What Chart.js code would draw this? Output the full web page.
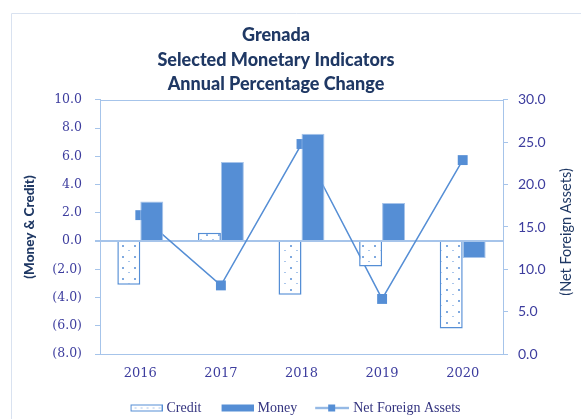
<!DOCTYPE html>
<html>
<head>
<meta charset="utf-8">
<script src="https://cdn.jsdelivr.net/npm/chart.js@4/dist/chart.umd.min.js"></script>
<style>
  html, body { margin: 0; padding: 0; background: #fff; }
  #chart { display: block; }
</style>
</head>
<body>
<canvas id="chart" width="581" height="419"></canvas>
<script>
// values
const years = ['2016', '2017', '2018', '2019', '2020'];
const credit = [-3.1, 0.6, -3.8, -1.8, -6.2];
const money = [2.8, 5.6, 7.6, 2.7, -1.2];
const netForeignAssets = [16.4, 8.1, 24.8, 6.5, 22.9];
const titleLines = ['Grenada', 'Selected Monetary Indicators', 'Annual Percentage Change'];

const blue = '#558ED5';
const axisColor = '#A6C4EA';
const tickColor = '#3D3D9E';
const navy = '#1F3864';

// dotted fill used for the credit bars
function makeDots() {
    const c = document.createElement('canvas');
    c.width = 12;
    c.height = 11;
    const g = c.getContext('2d');
    g.fillStyle = '#fff';
    g.fillRect(0, 0, 12, 11);
    g.fillStyle = '#7FA9DF';
    g.fillRect(2, 3, 2, 2);
    g.fillStyle = '#A9C6EC';
    g.fillRect(8, 8, 2, 1);
    return g.createPattern(c, 'repeat');
}
const dots = makeDots();

// legend symbols (content sits at the right end so it hugs the label text)
function legendIcon(kind) {
    const c = document.createElement('canvas');
    c.width = 45;
    c.height = 9;
    const g = c.getContext('2d');
    if (kind === 'credit') {
        g.fillStyle = '#fff';
        g.fillRect(13, 1, 32, 7);
        g.fillStyle = '#A9C6EC';
        for (let x = 17; x < 44; x += 6) g.fillRect(x, 4, 2, 1);
        g.strokeStyle = blue;
        g.lineWidth = 1;
        g.strokeRect(13.5, 1.5, 31, 6);
    } else if (kind === 'money') {
        g.fillStyle = blue;
        g.fillRect(13, 1, 32, 7);
    } else {
        g.strokeStyle = blue;
        g.lineWidth = 1.5;
        g.beginPath();
        g.moveTo(11, 4.5);
        g.lineTo(45, 4.5);
        g.stroke();
        g.fillStyle = blue;
        g.fillRect(24, 1, 7, 7);
    }
    return c;
}
const icons = [legendIcon('credit'), legendIcon('money'), legendIcon('nfa')];

const fmtLeft = v => v < 0 ? '(' + Math.abs(v).toFixed(1) + ')' : v.toFixed(1);

const framePlugin = {
    id: 'frame',
    afterLayout(chart) {
        // centre the title a bit left of the canvas middle, as in the reference
        if (chart.titleBlock) {
            chart.titleBlock.left = 0;
            chart.titleBlock.right = 552;
        }
    },
    beforeDraw(chart) {
        const ctx = chart.ctx;
        ctx.save();
        ctx.strokeStyle = '#D9E2F0';
        ctx.lineWidth = 1;
        ctx.beginPath();
        ctx.moveTo(11.5, 419);
        ctx.lineTo(11.5, 13.5);
        ctx.lineTo(581, 13.5);
        ctx.stroke();
        ctx.restore();
    },
    afterDraw(chart) {
        const ctx = chart.ctx;
        const a = chart.chartArea;
        ctx.save();
        ctx.strokeStyle = axisColor;
        ctx.lineWidth = 1;
        ctx.beginPath();
        ctx.moveTo(a.left, Math.round(a.top) + 0.5);
        ctx.lineTo(a.right, Math.round(a.top) + 0.5);
        ctx.stroke();
        // right axis title reads bottom-to-top
        ctx.translate(566, (a.top + a.bottom) / 2 + 5);
        ctx.rotate(-Math.PI / 2);
        ctx.fillStyle = navy;
        ctx.font = '14.5px Lato';
        ctx.textAlign = 'center';
        ctx.textBaseline = 'middle';
        ctx.fillText('(Net Foreign Assets)', 0, 0);
        ctx.restore();
    }
};

new Chart(document.getElementById('chart'), {
    type: 'bar',
    data: {
        labels: years,
        datasets: [
            {
                label: 'Credit',
                data: credit,
                backgroundColor: dots,
                borderColor: blue,
                borderWidth: 1.5,
                yAxisID: 'y',
                order: 1
            },
            {
                label: 'Money',
                data: money,
                backgroundColor: blue,
                borderColor: '#A7C4EA',
                borderWidth: 1,
                yAxisID: 'y',
                order: 1
            },
            {
                type: 'line',
                label: 'Net Foreign Assets',
                data: netForeignAssets,
                borderColor: blue,
                backgroundColor: blue,
                borderWidth: 1.5,
                pointStyle: 'rect',
                pointRadius: 7,
                pointBorderWidth: 0,
                tension: 0,
                yAxisID: 'y1',
                order: 2
            }
        ]
    },
    options: {
        responsive: false,
        devicePixelRatio: 1,
        animation: false,
        layout: { padding: { left: 0, right: 0, top: 0, bottom: -6 } },
        datasets: {
            bar: { categoryPercentage: 0.57, barPercentage: 1.0 }
        },
        scales: {
            x: {
                grid: { display: false, drawTicks: false },
                border: { color: axisColor, width: 1 },
                ticks: {
                    color: tickColor,
                    padding: 12,
                    font: { family: "'DejaVu Serif'", size: 13 }
                },
                afterFit(s) { s.height = 37; }
            },
            y: {
                position: 'left',
                min: -8,
                max: 10,
                grid: {
                    color: ctx => ctx.tick && ctx.tick.value === 0 ? axisColor : 'rgba(0,0,0,0)',
                    lineWidth: ctx => ctx.tick && ctx.tick.value === 0 ? 2 : 1,
                    tickColor: axisColor,
                    tickLength: 5
                },
                border: { color: axisColor, width: 1 },
                ticks: {
                    stepSize: 2,
                    color: tickColor,
                    padding: 13,
                    font: { family: "'DejaVu Serif'", size: 12.5 },
                    callback: v => fmtLeft(v)
                },
                title: {
                    display: true,
                    text: '(Money & Credit)',
                    color: navy,
                    padding: { top: 22, bottom: 0 },
                    font: { family: 'Lato', size: 13.5, weight: 900 }
                },
                afterFit(s) { s.width = 100; }
            },
            y1: {
                position: 'right',
                min: 0,
                max: 30,
                grid: { drawOnChartArea: false, tickColor: axisColor, tickLength: 5 },
                border: { color: axisColor, width: 1 },
                ticks: {
                    stepSize: 5,
                    color: tickColor,
                    padding: 10,
                    font: { family: 'Lato', size: 14 },
                    callback: v => v.toFixed(1)
                },
                afterFit(s) { s.width = 78; }
            }
        },
        plugins: {
            title: {
                display: true,
                text: titleLines,
                color: navy,
                font: { family: 'Lato', size: 18, weight: 900, lineHeight: 1.37 },
                padding: { top: 23, bottom: 3 }
            },
            legend: {
                position: 'bottom',
                labels: {
                    usePointStyle: true,
                    pointStyleWidth: 39,
                    padding: 10,
                    color: '#33337F',
                    font: { family: "'Liberation Serif'", size: 14 },
                    generateLabels(chart) {
                        const items = Chart.defaults.plugins.legend.labels.generateLabels(chart);
                        items.forEach(it => {
                            it.pointStyle = icons[it.datasetIndex];
                            it.fontColor = '#33337F';
                        });
                        return items;
                    }
                }
            },
            tooltip: { enabled: false }
        }
    },
    plugins: [framePlugin]
});
</script>
</body>
</html>
